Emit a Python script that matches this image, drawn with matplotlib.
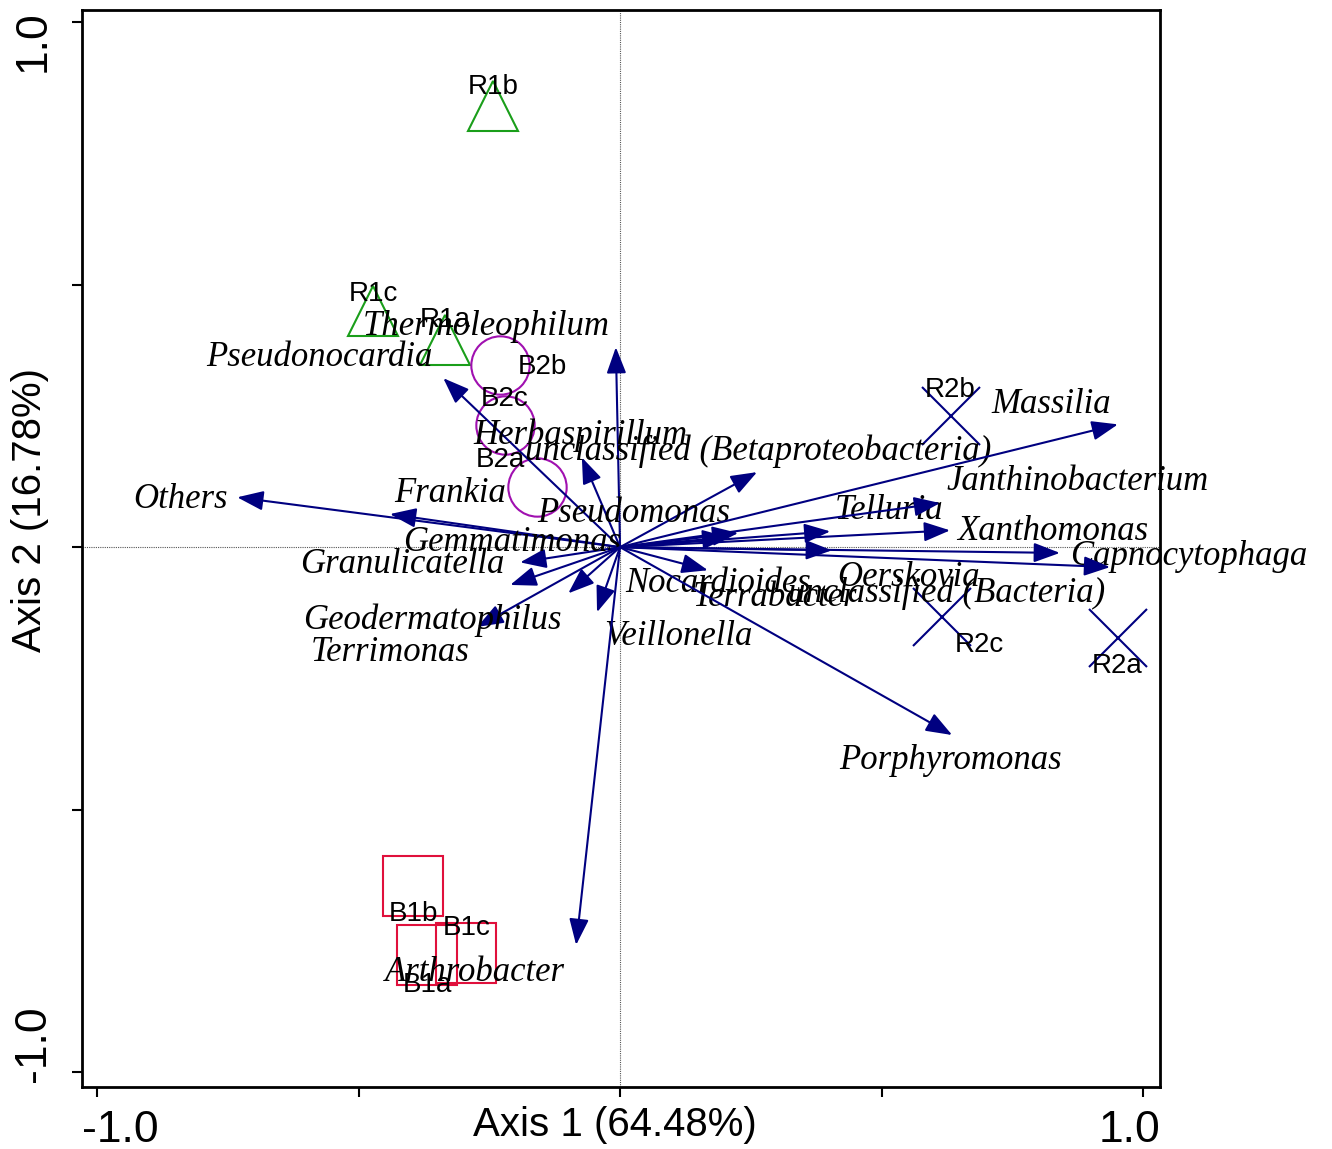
import matplotlib.pyplot as plt

# species arrows (axis 1, axis 2)
species = ["Others", "Frankia", "Pseudonocardia", "Thermoleophilum", "Herbaspirillum",
           "unclassified (Betaproteobacteria)", "Pseudomonas", "Telluria", "Janthinobacterium",
           "Massilia", "Xanthomonas", "Capnocytophaga", "Oerskovia", "unclassified (Bacteria)",
           "Terrabacter", "Nocardioides", "Porphyromonas", "Veillonella", "Arthrobacter",
           "Gemmatimonas", "Granulicatella", "Geodermatophilus", "Terrimonas"]
sp_x = [-0.732, -0.440, -0.338, -0.008, -0.073, 0.262, 0.226, 0.402, 0.612, 0.952, 0.631,
        0.841, 0.405, 0.937, 0.207, 0.168, 0.635, -0.044, -0.084, -0.191, -0.210, -0.273, -0.099]
sp_y = [0.095, 0.063, 0.322, 0.381, 0.171, 0.143, 0.027, 0.030, 0.084, 0.234, 0.032,
        -0.011, -0.006, -0.038, 0.019, -0.044, -0.358, -0.124, -0.758, -0.029, -0.072, -0.152, -0.088]
# where each species name sits (label centre)
sp_lab = [(-0.841, 0.090), (-0.325, 0.103), (-0.574, 0.362), (-0.256, 0.421), (-0.076, 0.213),
          (0.264, 0.183), (0.027, 0.065), (0.514, 0.070), (0.874, 0.126), (0.824, 0.272),
          (0.828, 0.029), (1.088, -0.017), (0.551, -0.057), (0.625, -0.088), (0.296, -0.095),
          (0.187, -0.069), (0.631, -0.406), (0.111, -0.170), (-0.277, -0.810), (-0.207, 0.008),
          (-0.417, -0.034), (-0.359, -0.139), (-0.440, -0.200)]

# samples
samples = ["R1a", "R1b", "R1c", "B2a", "B2b", "B2c", "R2a", "R2b", "R2c", "B1a", "B1b", "B1c"]
groups = ["R1", "R1", "R1", "B2", "B2", "B2", "R2", "R2", "R2", "B1", "B1", "B1"]
smp_x = [-0.335, -0.243, -0.472, -0.159, -0.229, -0.220, 0.952, 0.633, 0.616, -0.369, -0.396, -0.294]
smp_y = [0.394, 0.840, 0.450, 0.114, 0.347, 0.232, -0.173, 0.250, -0.133, -0.777, -0.646, -0.773]
smp_lab = [(-0.335, 0.432), (-0.243, 0.876), (-0.472, 0.482), (-0.229, 0.166), (-0.149, 0.343),
           (-0.220, 0.282), (0.950, -0.227), (0.631, 0.299), (0.688, -0.187), (-0.369, -0.834),
           (-0.396, -0.699), (-0.294, -0.726)]

styles = {"R1": ("^", "#1a9e1a", 36), "B2": ("o", "#a010b0", 42),
          "R2": ("x", "#000080", 42), "B1": ("s", "#e0103c", 43)}

navy = "#000080"
fig = plt.figure(figsize=(13.32, 11.49), dpi=100)
ax = fig.add_axes([0.0616, 0.054, 0.8093, 0.937])

ax.axhline(0, color="#555555", lw=0.8, ls=(0, (1, 1)), zorder=0)
ax.axvline(0, color="#555555", lw=0.8, ls=(0, (1, 1)), zorder=0)

for i in range(len(species)):
    ax.annotate("", xy=(sp_x[i], sp_y[i]), xytext=(0, 0),
                arrowprops=dict(arrowstyle="-|>,head_length=0.8,head_width=0.3",
                                color=navy, lw=1.5, shrinkA=0, shrinkB=0,
                                mutation_scale=20))
    ax.text(sp_lab[i][0], sp_lab[i][1], species[i], fontsize=25, style="italic",
            family="Liberation Serif", ha="center", va="center")

for i in range(len(samples)):
    m, c, s = styles[groups[i]]
    ax.plot(smp_x[i], smp_y[i], marker=m, ms=s, mfc="none", mec=c, mew=1.5, ls="none")
    ax.text(smp_lab[i][0], smp_lab[i][1], samples[i], fontsize=20,
            family="Liberation Sans", ha="center", va="center")

ax.set_xlim(-1.0287, 1.0325)
ax.set_ylim(-1.0286, 1.0229)
ax.set_xticks([-1, -0.5, 0, 0.5, 1])
ax.set_yticks([-1, -0.5, 0, 0.5, 1])
ax.set_xticklabels([])
ax.set_yticklabels([])
ax.tick_params(direction="out", length=7, width=1.5)
for sp in ax.spines.values():
    sp.set_linewidth(2)

tick_font = dict(fontsize=32, family="Liberation Sans", transform=ax.transAxes)
ax.text(0, -0.040, "-1.0", ha="left", va="center", **tick_font)
ax.text(1, -0.040, "1.0", ha="right", va="center", **tick_font)
ax.text(-0.026, 1.0, "1.0", ha="right", va="top", rotation=90, **tick_font)
ax.text(-0.026, 0.005, "-1.0", ha="right", va="bottom", rotation=90, **tick_font)

ax.text(0.494, -0.0175, "Axis 1 (64.48%)", transform=ax.transAxes, fontsize=29,
        family="Liberation Sans", ha="center", va="top")
ax.text(-0.031, 0.536, "Axis 2 (16.78%)", transform=ax.transAxes, fontsize=29,
        family="Liberation Sans", ha="right", va="center", rotation=90)

fig.savefig("out.png", dpi=100)
